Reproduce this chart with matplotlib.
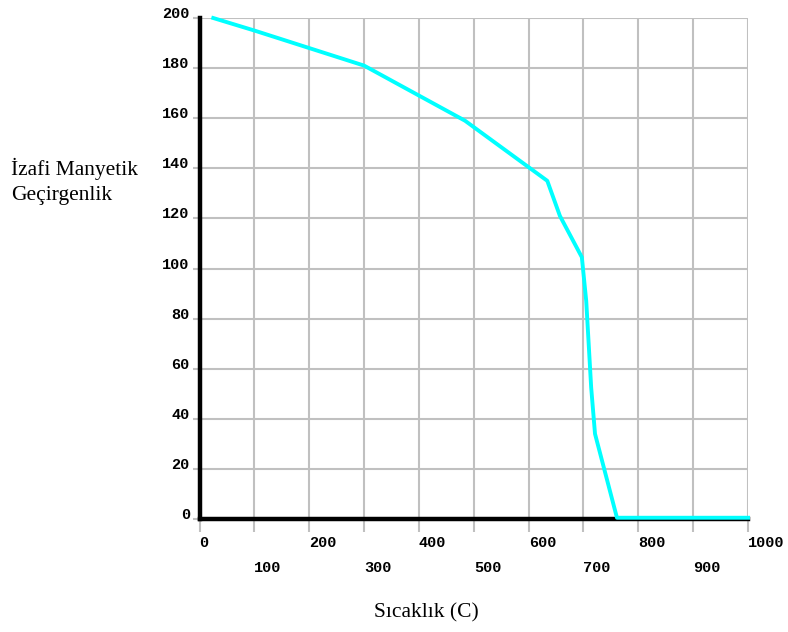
"""Relative magnetic permeability vs temperature."""
import matplotlib
matplotlib.use("Agg")
import matplotlib.pyplot as plt

temp = [25, 100, 200, 300, 484, 634, 657, 697, 705, 714, 721, 761, 1000]
perm = [200, 195, 188, 181, 159, 135, 121, 104.5, 87, 52.5, 34, 0.5, 0.5]
xticks = list(range(0, 1001, 100))
yticks = list(range(0, 201, 20))

tick_font = {"family": "Liberation Mono", "size": 11, "weight": "bold"}
label_font = {"family": "Liberation Serif", "size": 15.5}

fig = plt.figure(figsize=(7.88, 6.32), dpi=100)
ax = fig.add_axes([0.2532, 0.1788, 0.6961, 0.7927])

ax.plot(temp, perm, color="#00ffff", lw=2.8, zorder=4, clip_on=False)

ax.set_xlim(0, 1000)
ax.set_ylim(0, 200)
ax.set_xticks(xticks)
ax.set_xticklabels([str(t) for t in xticks], fontdict=tick_font, ha="left")
ax.set_yticks(yticks)
ax.set_yticklabels([str(t) for t in yticks], fontdict=tick_font, va="baseline")
ax.grid(True, color="#c0c0c0", lw=1.5)
ax.set_axisbelow(True)

ax.tick_params(axis="x", length=9, width=1.5, color="#c0c0c0", pad=3.6)
ax.tick_params(axis="y", length=5, width=1.5, color="#c0c0c0", pad=2)
for i, tk in enumerate(ax.xaxis.get_major_ticks()):
    if i % 2 == 1:
        tk.set_pad(21)

for s in ["top", "right"]:
    ax.spines[s].set_visible(False)
for s in ["left", "bottom"]:
    ax.spines[s].set_linewidth(3.2)
    ax.spines[s].set_color("black")

fig.text(0.014, 1 - 175 / 632, "İzafi Manyetik", fontdict=label_font,
         ha="left", va="baseline")
fig.text(0.014, 1 - 200 / 632, "Geçirgenlik", fontdict=label_font,
         ha="left", va="baseline")
fig.text(0.541, 0.030, "Sıcaklık (C)", fontdict=label_font,
         ha="center", va="center")

fig.savefig("out.png", dpi=100)
